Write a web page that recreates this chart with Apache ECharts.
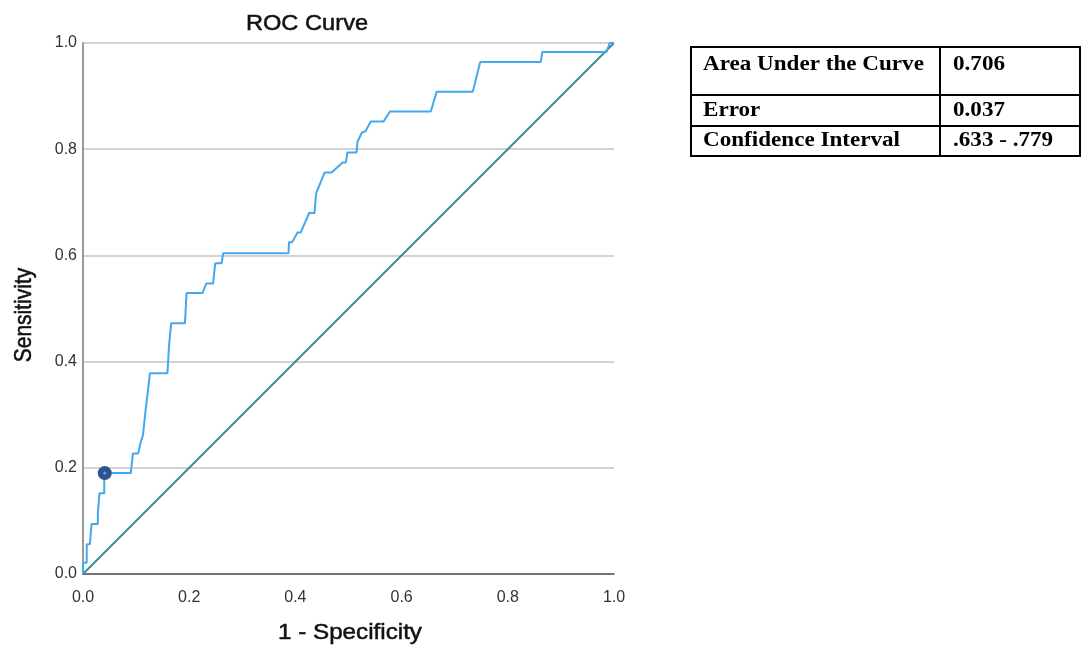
<!DOCTYPE html>
<html>
<head>
<meta charset="utf-8">
<script src="https://cdn.jsdelivr.net/npm/echarts@6/dist/echarts.min.js"></script>
<style>
html,body{margin:0;padding:0;background:#fff;}
#chart{width:1081px;height:647px;}
</style>
</head>
<body>
<div id="chart"></div>
<script>
// ROC curve (1 - specificity, sensitivity)
const fpr = [0,0,0.007,0.007,0.013,0.016,0.028,0.028,0.031,0.031,0.040,0.040,0.090,0.094,0.104,0.108,0.113,0.117,0.126,0.159,0.162,0.166,0.192,0.195,0.225,0.232,0.245,0.249,0.261,0.264,0.387,0.388,0.394,0.404,0.410,0.426,0.436,0.439,0.455,0.468,0.489,0.495,0.498,0.515,0.517,0.525,0.532,0.542,0.566,0.578,0.655,0.666,0.734,0.748,0.862,0.865,0.986,0.992,1.0];
const tpr = [0,0.021,0.021,0.056,0.056,0.094,0.094,0.115,0.115,0.152,0.152,0.190,0.190,0.227,0.227,0.246,0.262,0.300,0.378,0.378,0.430,0.472,0.472,0.529,0.529,0.547,0.547,0.585,0.585,0.604,0.604,0.625,0.625,0.643,0.643,0.680,0.680,0.717,0.756,0.756,0.775,0.775,0.794,0.794,0.814,0.831,0.834,0.852,0.852,0.871,0.871,0.908,0.908,0.964,0.964,0.983,0.983,1.0,1.0];
const refX = [0, 1];
const refY = [0, 1];
const cutoffPoint = [0.041, 0.190];
const tickLabels = ['0.0','0.2','0.4','0.6','0.8','1.0'];
const chartTitle = 'ROC Curve';
const xName = '1 - Specificity';
const yName = 'Sensitivity';
const tableRows = [
  ['Area Under the Curve', '0.706'],
  ['Error', '0.037'],
  ['Confidence Interval', '.633 - .779']
];

const chart = echarts.init(document.getElementById('chart'), null, {renderer:'canvas'});

const sans = '"Liberation Sans", Arial, sans-serif';
const serif = '"Liberation Serif", "Times New Roman", serif';
// table geometry (layout only)
const tX0 = 691, tX1 = 1080, tXm = 940;
const tY = [47, 95, 126, 156];
const textY = [65, 111, 141];
const graphics = [];
const lw = 2;
for (let i = 0; i < tY.length; i++) {
  graphics.push({type:'line', shape:{x1:tX0-1,y1:tY[i],x2:tX1+1,y2:tY[i]}, style:{stroke:'#000',lineWidth:lw}});
}
[tX0, tXm, tX1].forEach(x => graphics.push({type:'line', shape:{x1:x,y1:tY[0],x2:x,y2:tY[3]}, style:{stroke:'#000',lineWidth:lw}}));
tableRows.forEach((r, i) => {
  graphics.push({type:'text', x:703, y:textY[i], scaleX:1.1, style:{text:r[0], fill:'#000', font:'bold 21px ' + serif, textVerticalAlign:'middle', textAlign:'left'}});
  graphics.push({type:'text', x:953, y:textY[i], scaleX:1.1, style:{text:r[1], fill:'#000', font:'bold 21px ' + serif, textVerticalAlign:'middle', textAlign:'left'}});
});
const heavy = {stroke:'#111', lineWidth:0.5};
graphics.push({type:'text', x:307, y:24, scaleX:1.1, style:Object.assign({text:chartTitle, fill:'#111', font:'21.5px ' + sans, textAlign:'center', textVerticalAlign:'middle'}, heavy)});
graphics.push({type:'text', x:350, y:633, scaleX:1.1, style:Object.assign({text:xName, fill:'#111', font:'22px ' + sans, textAlign:'center', textVerticalAlign:'middle'}, heavy)});
graphics.push({type:'text', x:25, y:315, rotation:Math.PI/2, scaleY:1.1, style:Object.assign({text:yName, fill:'#111', font:'21px ' + sans, textAlign:'center', textVerticalAlign:'middle'}, heavy)});

chart.setOption({
  animation:false,
  backgroundColor:'#fff',
  grid:{left:83, top:43, width:531, height:531, containLabel:false, outerBoundsMode:'none'},
  xAxis:{
    type:'value', min:0, max:1, interval:0.2,
    axisLine:{show:true, onZero:false, lineStyle:{color:'#555', width:1.5}},
    axisTick:{show:false},
    axisLabel:{fontSize:16, color:'#333', margin:16, fontFamily:sans, formatter:v=>tickLabels[Math.round(v/0.2)]},
    splitLine:{show:false}
  },
  yAxis:{
    type:'value', min:0, max:1, interval:0.2,
    axisLine:{show:true, onZero:false, lineStyle:{color:'#777', width:1.5}},
    axisTick:{show:false},
    axisLabel:{fontSize:16, color:'#333', margin:6, fontFamily:sans, formatter:v=>tickLabels[Math.round(v/0.2)]},
    splitLine:{show:true, lineStyle:{color:'#d2d2d2', width:2}}
  },
  series:[
    {type:'line', data:refX.map((x,i)=>[x,refY[i]]), showSymbol:false, lineStyle:{color:'#3a8f8c', width:2}, z:3},
    {type:'line', data:fpr.map((x,i)=>[x,tpr[i]]), showSymbol:false, lineStyle:{color:'#45a8ee', width:2}, z:4},
    {type:'scatter', data:[cutoffPoint], symbol:'circle', symbolSize:14, itemStyle:{color:'#2a5590', opacity:1}, z:5},
    {type:'scatter', data:[cutoffPoint], symbol:'circle', symbolSize:3, itemStyle:{color:'#7d9cc8', opacity:1}, z:6}
  ],
  graphic:graphics
});
</script>
</body>
</html>
